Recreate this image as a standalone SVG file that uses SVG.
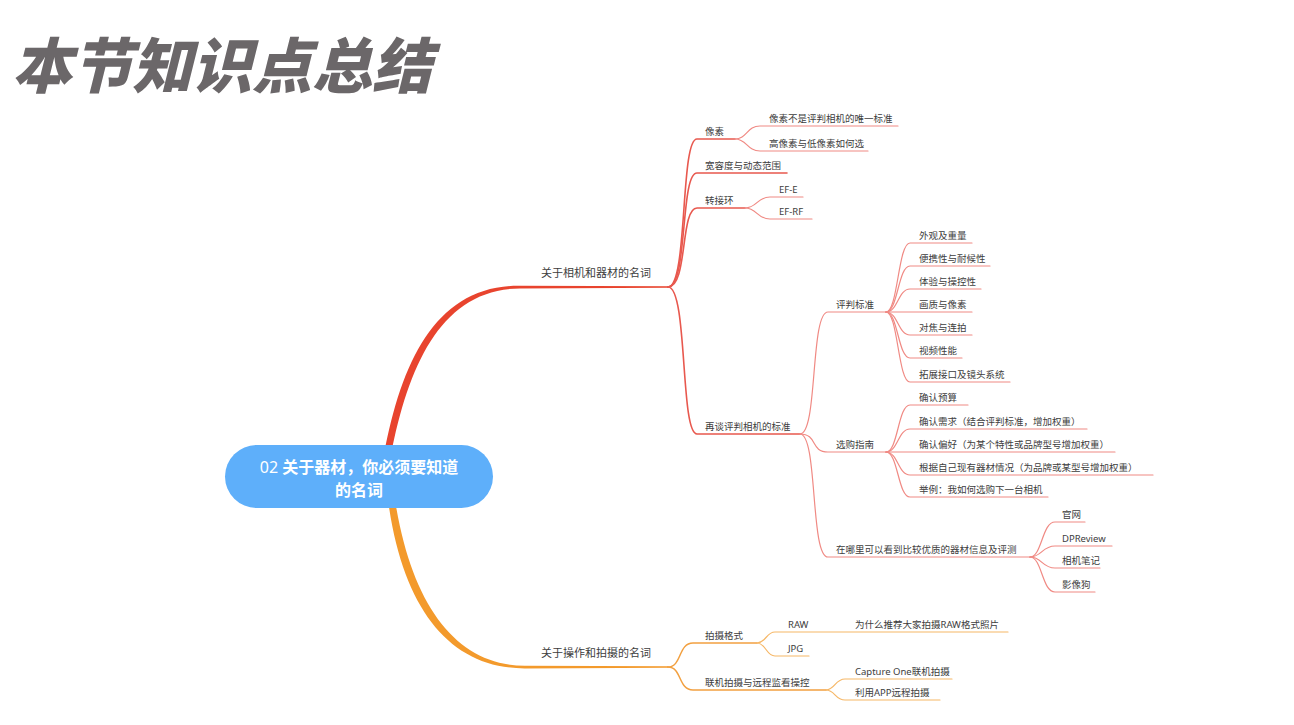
<svg xmlns="http://www.w3.org/2000/svg" width="1294" height="725" viewBox="0 0 1294 725">
<style>
.t{font-family:"Noto Sans","Noto Sans CJK SC",sans-serif;font-size:9.5px;fill:#3d3d3d}
.t1{font-family:"Noto Sans","Noto Sans CJK SC",sans-serif;font-size:11px;fill:#3d3d3d}
.r2{fill:none;stroke:#e8584e;stroke-width:1.6;stroke-linecap:round}
.r3{fill:none;stroke:#f08a84;stroke-width:1.2;stroke-linecap:round}
.o2{fill:none;stroke:#f2a040;stroke-width:1.5;stroke-linecap:round}
.o3{fill:none;stroke:#f6b766;stroke-width:1.2;stroke-linecap:round}
</style>
<rect width="1294" height="725" fill="#ffffff"/>
<text x="12" y="88" font-family="'Noto Sans CJK SC',sans-serif" font-size="60" font-weight="900" font-style="italic" fill="#6b6769">本节知识点总结</text>
<g id="connectors">
<path d="M384,455 C402,358 438,285 520,285.8 L668,286.2 L668,287.8 L520,288.4 C443,289 409,362 391,455 Z" fill="#e8442e"/>
<path d="M388,500 C403,612 452,668.6 525,668.4 L668,667.8 L668,666.2 L525,665.8 C458,665.6 412,608 395,500 Z" fill="#f39a2c"/>
<path class="r2" d="M668,287 C688,287 680,139 697,139 L735,139"/>
<path class="r2" d="M668,287 C688,287 680,173 697,173 L787,173"/>
<path class="r2" d="M668,287 C688,287 680,208 697,208 L745,208"/>
<path class="r2" d="M668,287 C688,287 680,434 697,434 L800,434"/>
<path class="r3" d="M735,139 C747,139 747,126 760,126 L898,126"/>
<path class="r3" d="M735,139 C747,139 747,151 760,151 L868,151"/>
<path class="r3" d="M745,208 C757,208 757,197 770,197 L803,197"/>
<path class="r3" d="M745,208 C757,208 757,219 770,219 L812,219"/>
<path class="r3" d="M800,434 C818,434 810,312 828,312 L886,312"/>
<path class="r3" d="M800,434 C818,434 810,452 828,452 L886,452"/>
<path class="r3" d="M800,434 C818,434 810,557 828,557 L1030,557"/>
<path class="r3" d="M886,312 C898,312 898,243 910,243 L972,243"/>
<path class="r3" d="M886,312 C898,312 898,266 910,266 L990,266"/>
<path class="r3" d="M886,312 C898,312 898,289 910,289 L981,289"/>
<path class="r3" d="M886,312 L972,312"/>
<path class="r3" d="M886,312 C898,312 898,335 910,335 L972,335"/>
<path class="r3" d="M886,312 C898,312 898,358 910,358 L962,358"/>
<path class="r3" d="M886,312 C898,312 898,382 910,382 L1010,382"/>
<path class="r3" d="M886,452 C898,452 898,405 910,405 L968,405"/>
<path class="r3" d="M886,452 C898,452 898,429 910,429 L1087,429"/>
<path class="r3" d="M886,452 L1115,452"/>
<path class="r3" d="M886,452 C898,452 898,475 910,475 L1153,475"/>
<path class="r3" d="M886,452 C898,452 898,497 910,497 L1048,497"/>
<path class="r3" d="M1030,557 C1042,557 1042,522 1055,522 L1085,522"/>
<path class="r3" d="M1030,557 C1042,557 1042,546 1055,546 L1112,546"/>
<path class="r3" d="M1030,557 C1042,557 1042,568 1055,568 L1100,568"/>
<path class="r3" d="M1030,557 C1042,557 1042,592 1055,592 L1095,592"/>
<path class="o2" d="M668,667 C682,667 678,643 693,643 L757,643"/>
<path class="o2" d="M668,667 C682,667 678,690 693,690 L826,690"/>
<path class="o3" d="M757,643 C766,643 766,632 775,632 L1008,632"/>
<path class="o3" d="M757,643 C766,643 766,656 775,656 L809,656"/>
<path class="o3" d="M826,690 C835,690 835,679 845,679 L952,679"/>
<path class="o3" d="M826,690 C835,690 835,700 845,700 L940,700"/>
</g>
<g id="root">
<rect x="225" y="445" width="268" height="63" rx="31.5" fill="#5eaffa"/>
<text x="359" y="473" text-anchor="middle" font-family="'Noto Sans','Noto Sans CJK SC',sans-serif" font-size="16" fill="#ffffff"><tspan>02 </tspan><tspan font-weight="bold">关于器材，你必须要知道</tspan></text>
<text x="359" y="496" text-anchor="middle" font-family="'Noto Sans CJK SC',sans-serif" font-size="16" font-weight="bold" fill="#ffffff">的名词</text>
</g>
<g id="n-camera"><text class="t1" x="541" y="277">关于相机和器材的名词</text></g>
<g id="n-pixel"><text class="t" x="705" y="135">像素</text></g>
<g id="n-pixel1"><text class="t" x="769" y="122">像素不是评判相机的唯一标准</text></g>
<g id="n-pixel2"><text class="t" x="769" y="147">高像素与低像素如何选</text></g>
<g id="n-dr"><text class="t" x="705" y="169">宽容度与动态范围</text></g>
<g id="n-adapter"><text class="t" x="705" y="204">转接环</text></g>
<g id="n-efe"><text class="t" x="779" y="193">EF-E</text></g>
<g id="n-efrf"><text class="t" x="779" y="215">EF-RF</text></g>
<g id="n-again"><text class="t" x="705" y="430">再谈评判相机的标准</text></g>
<g id="n-criteria"><text class="t" x="836" y="308">评判标准</text></g>
<g id="n-c1"><text class="t" x="919" y="239">外观及重量</text></g>
<g id="n-c2"><text class="t" x="919" y="262">便携性与耐候性</text></g>
<g id="n-c3"><text class="t" x="919" y="285">体验与操控性</text></g>
<g id="n-c4"><text class="t" x="919" y="308">画质与像素</text></g>
<g id="n-c5"><text class="t" x="919" y="331">对焦与连拍</text></g>
<g id="n-c6"><text class="t" x="919" y="354">视频性能</text></g>
<g id="n-c7"><text class="t" x="919" y="378">拓展接口及镜头系统</text></g>
<g id="n-guide"><text class="t" x="836" y="448">选购指南</text></g>
<g id="n-g1"><text class="t" x="919" y="401">确认预算</text></g>
<g id="n-g2"><text class="t" x="919" y="425">确认需求（结合评判标准，增加权重）</text></g>
<g id="n-g3"><text class="t" x="919" y="448">确认偏好（为某个特性或品牌型号增加权重）</text></g>
<g id="n-g4"><text class="t" x="919" y="471">根据自己现有器材情况（为品牌或某型号增加权重）</text></g>
<g id="n-g5"><text class="t" x="919" y="493">举例：我如何选购下一台相机</text></g>
<g id="n-where"><text class="t" x="836" y="553">在哪里可以看到比较优质的器材信息及评测</text></g>
<g id="n-w1"><text class="t" x="1062" y="518">官网</text></g>
<g id="n-w2"><text class="t" x="1062" y="542">DPReview</text></g>
<g id="n-w3"><text class="t" x="1062" y="564">相机笔记</text></g>
<g id="n-w4"><text class="t" x="1062" y="588">影像狗</text></g>
<g id="n-operate"><text class="t1" x="541" y="657">关于操作和拍摄的名词</text></g>
<g id="n-format"><text class="t" x="705" y="639">拍摄格式</text></g>
<g id="n-raw"><text class="t" x="788" y="628">RAW</text></g>
<g id="n-rawwhy"><text class="t" x="855" y="628">为什么推荐大家拍摄RAW格式照片</text></g>
<g id="n-jpg"><text class="t" x="788" y="652">JPG</text></g>
<g id="n-tether"><text class="t" x="705" y="686">联机拍摄与远程监看操控</text></g>
<g id="n-t1"><text class="t" x="855" y="675">Capture One联机拍摄</text></g>
<g id="n-t2"><text class="t" x="855" y="696">利用APP远程拍摄</text></g>
</svg>
